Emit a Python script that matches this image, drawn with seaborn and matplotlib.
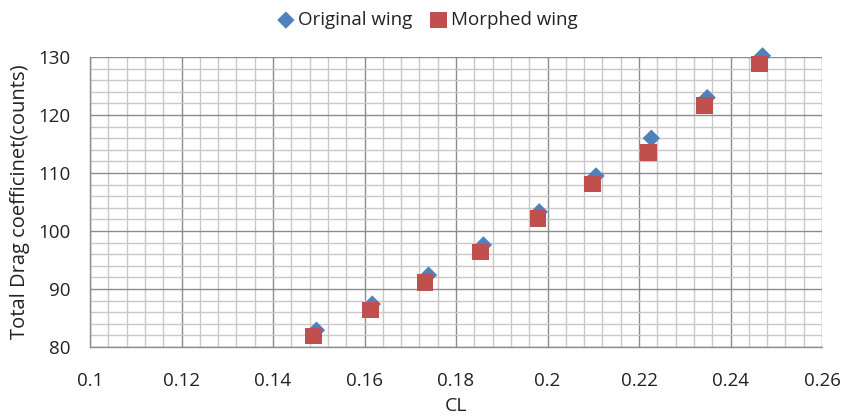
import numpy as np
import pandas as pd
import matplotlib
matplotlib.use("Agg")
import matplotlib.pyplot as plt
from matplotlib.ticker import MultipleLocator
import seaborn as sns

series_names = ["Original wing", "Morphed wing"]
cl_original = [0.1495, 0.1617, 0.1740, 0.1860, 0.1982, 0.2106, 0.2227, 0.2349, 0.2470]
cd_original = [82.9, 87.4, 92.4, 97.6, 103.3, 109.5, 116.0, 123.0, 130.2]
cl_morphed = [0.1489, 0.1613, 0.1732, 0.1854, 0.1979, 0.2098, 0.2220, 0.2343, 0.2464]
cd_morphed = [81.9, 86.4, 91.1, 96.4, 102.2, 108.1, 113.5, 121.6, 128.8]
x_ticks = [0.1, 0.12, 0.14, 0.16, 0.18, 0.2, 0.22, 0.24, 0.26]
x_tick_labels = ["0.1", "0.12", "0.14", "0.16", "0.18", "0.2", "0.22", "0.24", "0.26"]
y_ticks = [80, 90, 100, 110, 120, 130]

df = pd.DataFrame({
    "CL": cl_original + cl_morphed,
    "CD": cd_original + cd_morphed,
    "Series": [series_names[0]] * len(cl_original) + [series_names[1]] * len(cl_morphed),
})

sns.set_style("white")
plt.rcParams["font.family"] = ["Open Sans", "DejaVu Sans"]

fig = plt.figure(figsize=(8.41, 4.16), dpi=100)
ax = fig.add_axes([90 / 841, 1 - 347 / 416, (822 - 90) / 841, (347 - 57) / 416])

palette = {series_names[0]: "#4F81BD", series_names[1]: "#C0504D"}
markers = {series_names[0]: "D", series_names[1]: "s"}
sizes = {series_names[0]: 78, series_names[1]: 145}
for name in series_names:
    sub = df[df["Series"] == name]
    sns.scatterplot(data=sub, x="CL", y="CD", color=palette[name], marker=markers[name],
                    s=sizes[name], edgecolor="none", ax=ax, label=name, zorder=3, clip_on=False)

ax.set_xlim(0.1, 0.26)
ax.set_ylim(80, 130)
ax.set_xticks(x_ticks)
ax.set_xticklabels(x_tick_labels)
ax.set_yticks(y_ticks)
ax.xaxis.set_minor_locator(MultipleLocator(0.004))
ax.yaxis.set_minor_locator(MultipleLocator(2))
ax.grid(which="major", color="#8c8c8c", linewidth=1.0)
ax.grid(which="minor", color="#c8c8c8", linewidth=1.0)
ax.set_axisbelow(True)
for side in ["top", "right"]:
    ax.spines[side].set_visible(False)
for side in ["left", "bottom"]:
    ax.spines[side].set_color("#8c8c8c")
    ax.spines[side].set_linewidth(1.0)
ax.tick_params(which="major", direction="out", length=5, width=1, color="#8c8c8c",
               labelsize=13.5, labelcolor="#222222")
ax.tick_params(axis="x", which="major", pad=13)
ax.tick_params(axis="y", which="major", pad=9)
ax.tick_params(which="minor", length=0)
ax.set_xlabel("CL", fontsize=14, color="#222222", labelpad=5)
ax.set_ylabel("Total Drag coefficinet(counts)", fontsize=14.5, color="#222222", labelpad=6)

leg = ax.legend(loc="center", bbox_to_anchor=((426 - 90) / 732, 1 + (57 - 20) / 290), ncol=2,
                frameon=False, fontsize=13.5, handletextpad=0.05, columnspacing=0.8,
                markerscale=1.0, handlelength=1.2)
for t in leg.get_texts():
    t.set_color("#222222")

fig.savefig("out.png", dpi=100)
